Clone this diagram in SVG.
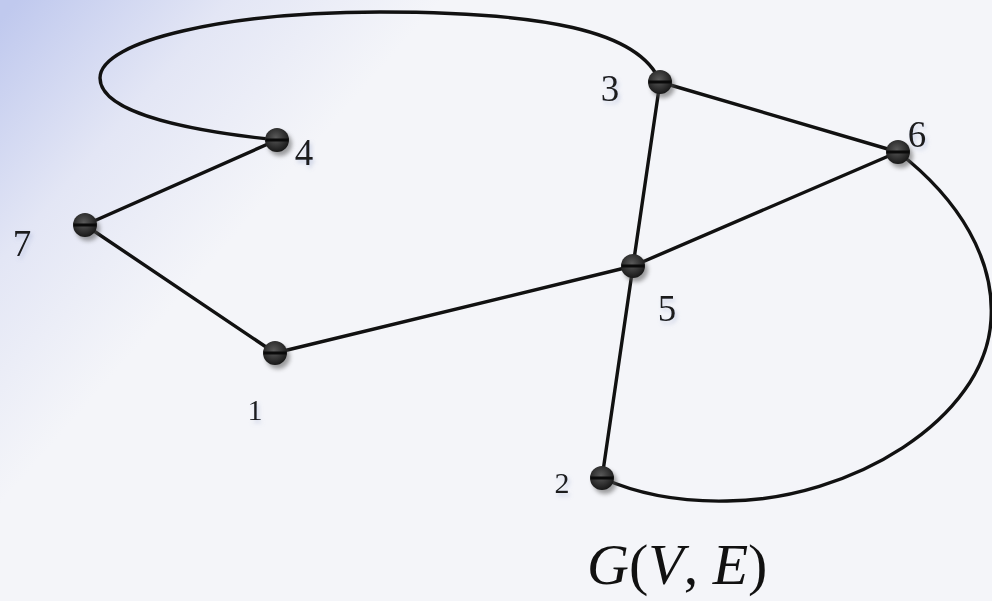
<svg xmlns="http://www.w3.org/2000/svg" width="992" height="601" viewBox="0 0 992 601">
<defs>
<linearGradient id="bg" gradientUnits="userSpaceOnUse" x1="0" y1="20" x2="240" y2="230">
<stop offset="0" stop-color="#c0c9ee"/>
<stop offset="0.5" stop-color="#e3e6f5"/>
<stop offset="1" stop-color="#f4f5f9"/>
</linearGradient>
<radialGradient id="ball" cx="0.45" cy="0.4" r="0.6">
<stop offset="0" stop-color="#5a5a5a"/>
<stop offset="1" stop-color="#181818"/>
</radialGradient>
<filter id="sh" x="-50%" y="-50%" width="200%" height="200%">
<feGaussianBlur stdDeviation="2"/>
</filter>
<filter id="tsh" x="-50%" y="-50%" width="200%" height="200%">
<feDropShadow dx="2" dy="3" stdDeviation="2" flood-color="#8090c0" flood-opacity="0.35"/>
</filter>
<g id="nd">
<circle cx="3" cy="4" r="12" fill="#555" opacity="0.55" filter="url(#sh)"/>
<circle r="12" fill="url(#ball)"/>
<rect x="-11.5" y="-1.5" width="23" height="3" fill="#0a0a0a"/>
</g>
</defs>
<style>
.e{fill:none;stroke:#111;stroke-width:3.4;stroke-linecap:round}
.lb{font-family:"Liberation Serif",serif;fill:#1a1a1a;text-anchor:middle;filter:url(#tsh)}
.big{font-size:37px}
.sm{font-size:30px}
.t{font-family:"Liberation Serif",serif;font-size:58px;fill:#111}
</style>
<rect width="992" height="601" fill="#f4f5f9"/>
<rect width="992" height="601" fill="url(#bg)"/>
<g id="connectors">
<path class="e" d="M660,82 C640,30 540,12 380,12 C230,12 100,40 100,78 C100,115 200,132 277,140"/>
<path class="e" d="M898,152 C960,200 995,260 991,320 C985,420 850,500 727,501 C680,502 640,495 602,478"/>
<line class="e" x1="85" y1="225" x2="277" y2="140"/>
<line class="e" x1="85" y1="225" x2="275" y2="353"/>
<line class="e" x1="275" y1="353" x2="633" y2="266"/>
<line class="e" x1="633" y1="266" x2="660" y2="82"/>
<line class="e" x1="633" y1="266" x2="898" y2="152"/>
<line class="e" x1="660" y1="82" x2="898" y2="152"/>
<line class="e" x1="633" y1="266" x2="602" y2="478"/>
</g>
<g id="n1"><use href="#nd" x="275" y="353"/><text class="lb sm" x="255" y="420">1</text></g>
<g id="n2"><use href="#nd" x="602" y="478"/><text class="lb sm" x="562" y="493">2</text></g>
<g id="n3"><use href="#nd" x="660" y="82"/><text class="lb big" x="610" y="101">3</text></g>
<g id="n4"><use href="#nd" x="277" y="140"/><text class="lb big" x="304" y="165">4</text></g>
<g id="n5"><use href="#nd" x="633" y="266"/><text class="lb big" x="667" y="321">5</text></g>
<g id="n6"><use href="#nd" x="898" y="152"/><text class="lb big" x="917" y="147">6</text></g>
<g id="n7"><use href="#nd" x="85" y="225"/><text class="lb big" x="22" y="256">7</text></g>
<text class="t" x="587" y="584"><tspan font-style="italic">G</tspan>(<tspan font-style="italic">V</tspan>, <tspan font-style="italic">E</tspan>)</text>
</svg>
